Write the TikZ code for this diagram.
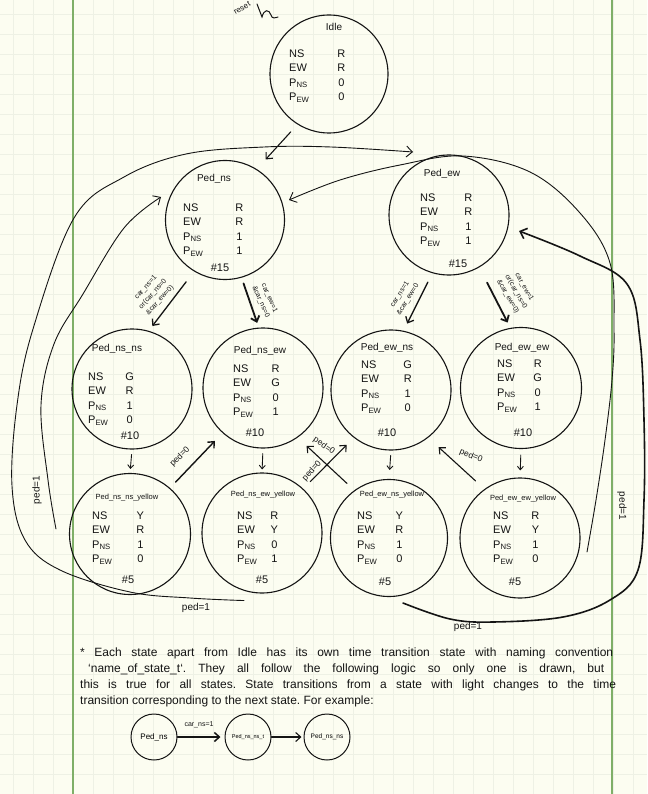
\documentclass[tikz,border=0pt]{standalone}
\usepackage{fontspec}
\setmainfont{Liberation Sans}
\usetikzlibrary{arrows.meta}
\definecolor{paper}{HTML}{FCFDF1}
\definecolor{gridc}{HTML}{EEF1E5}
\definecolor{margin}{HTML}{7FAF68}
\definecolor{ink}{HTML}{141414}
\tikzset{
  stnode/.style={circle,draw=ink,line width=1.1pt,inner sep=0pt,minimum size=#1},
  stnode/.default=119pt,
  txt/.style={font=\fontsize{11}{14.5}\selectfont,inner sep=0pt,text=ink},
  ttl/.style={font=\fontsize{10}{12}\selectfont,inner sep=0pt,text=ink},
  ttly/.style={font=\fontsize{7.5}{9}\selectfont,inner sep=0pt,text=ink},
  elab/.style={font=\fontsize{7}{9.5}\selectfont,inner sep=0pt,align=center,text=ink},
  plab/.style={font=\fontsize{8.5}{10}\selectfont,inner sep=0pt,text=ink},
  plabb/.style={font=\fontsize{10}{11}\selectfont,inner sep=0pt,text=ink},
  note/.style={font=\fontsize{12}{13}\selectfont,inner sep=0pt,text=ink,anchor=base west},
  arr/.style={draw=ink,line width=1.1pt,line cap=round,-{Straight Barb[length=5pt,width=9pt]}},
  sarr/.style={draw=ink,line width=0.9pt,line cap=round,-{Straight Barb[length=3.5pt,width=6pt]}},
  curve/.style={draw=ink,line width=0.9pt,line cap=round,-{Straight Barb[length=6pt,width=11pt]}},
}
\newcommand\sttitle[4]{\node[#4] (#1-t) at ([shift={(#2)}]#1.center) {#3};}
\newcommand\strows[7]{\node[txt,anchor=west] (#1-r) at ([shift={(#2)}]#1.center)
  {\begin{tabular}{@{}l@{\hspace{#3pt}}c@{}}NS&#4\\EW&#5\\P\textsubscript{NS}&#6\\P\textsubscript{EW}&#7\end{tabular}};}
\newcommand\stnum[3]{\node[txt] (#1-n) at ([shift={(#2)}]#1.center) {\#{}#3};}
\begin{document}
\frenchspacing
\begin{tikzpicture}[x=1pt,y=-1pt]
\useasboundingbox (0,0) rectangle (647,794);
\fill[paper] (0,0) rectangle (647,794);
\foreach \i in {0,...,32} \draw[gridc,line width=0.4pt] (13+20*\i,0) -- (13+20*\i,794);
\foreach \j in {0,...,39} \draw[gridc,line width=0.4pt] (0,14+20*\j) -- (647,14+20*\j);
\draw[margin,line width=1.3pt] (73,0) -- (73,794);
\draw[margin,line width=1.3pt] (612,0) -- (612,794);

% states
\node[stnode=118pt] (idle) at (329,74) {};
\node[stnode] (ns) at (225,220) {};
\node[stnode=120pt] (ew) at (449,215) {};
\node[stnode=120pt] (nsns) at (132,389) {};
\node[stnode=120pt] (nsew) at (263,388) {};
\node[stnode=120pt] (ewns) at (391,390) {};
\node[stnode=121pt] (ewew) at (521,388) {};
\node[stnode=121pt] (nsnsy) at (130,534) {};
\node[stnode=120pt] (nsewy) at (262,533) {};
\node[stnode=117pt] (ewnsy) at (389,538) {};
\node[stnode=120pt] (ewewy) at (520,538) {};

% state texts
\sttitle{idle}{5,-47}{Idle}{ttl}
\strows{idle}{-40,2}{28}{R}{R}{0}{0}
\sttitle{ns}{-11,-41}{Ped\_ns}{ttl}
\strows{ns}{-42,10}{32}{R}{R}{1}{1}
\stnum{ns}{-5,48}{15}
\sttitle{ew}{-7,-41}{Ped\_ew}{ttl}
\strows{ew}{-29,5}{24}{R}{R}{1}{1}
\stnum{ew}{9,49}{15}
\sttitle{nsns}{-15,-40}{Ped\_ns\_ns}{ttl}
\strows{nsns}{-44,10}{17}{G}{R}{1}{0}
\stnum{nsns}{-2,47}{10}
\sttitle{nsew}{-3,-37}{Ped\_ns\_ew}{ttl}
\strows{nsew}{-30,3}{18}{R}{G}{0}{1}
\stnum{nsew}{-8,45}{10}
\sttitle{ewns}{-4,-42}{Ped\_ew\_ns}{ttl}
\strows{ewns}{-30,-3}{22}{G}{R}{1}{0}
\stnum{ewns}{-4,43}{10}
\sttitle{ewew}{1,-40}{Ped\_ew\_ew}{ttl}
\strows{ewew}{-24,-2}{16}{R}{G}{0}{1}
\stnum{ewew}{2,45}{10}
\sttitle{nsnsy}{-3,-36}{Ped\_ns\_ns\_yellow}{ttly}
\strows{nsnsy}{-38,4}{24}{Y}{R}{1}{0}
\stnum{nsnsy}{-2,46}{5}
\sttitle{nsewy}{1,-38}{Ped\_ns\_ew\_yellow}{ttly}
\strows{nsewy}{-25,5}{13}{R}{Y}{0}{1}
\stnum{nsewy}{0,47}{5}
\sttitle{ewnsy}{3,-43}{Ped\_ew\_ns\_yellow}{ttly}
\strows{ewnsy}{-32,0}{18}{Y}{R}{1}{0}
\stnum{ewnsy}{-4,44}{5}
\sttitle{ewewy}{3,-39}{Ped\_ew\_ew\_yellow}{ttly}
\strows{ewewy}{-27,0}{18}{R}{Y}{1}{0}
\stnum{ewewy}{-5,44}{5}

% reset
\node[font=\fontsize{8}{9}\selectfont,inner sep=0pt,rotate=30,text=ink] (reset) at (242,8) {reset};
\coordinate (rsA) at (257,4);
\coordinate (rsE) at (278,17);
\draw[ink,line width=1pt,line cap=round] (rsA) -- (262,17) .. controls (264,9) and (269,9) .. (271,15) .. controls (272,19) and (275,18) .. (rsE);

% idle -> ped_ns
\draw[arr,shorten <=10pt,shorten >=13pt] (idle.-122) -- (ns.58);

% ped -> light states
\draw[arr,line width=1.3pt,shorten <=13pt,shorten >=6pt] (ns.-121) -- (nsns.74);
\draw[arr,line width=1.8pt,shorten <=6pt,shorten >=5pt] (ns.-74) -- (nsew.94);
\draw[arr,line width=1.3pt,shorten <=10pt,shorten >=8pt] (ew.-106) -- (ewns.78);
\draw[arr,line width=1.8pt,shorten <=17pt,shorten >=6pt] (ew.-60) -- (ewew.100);
\node[elab,rotate=48] (e1) at (153,294) {car\_ns=1\\or(car\_ns=0\\\&car\_ew=0)};
\node[elab,rotate=-66] (e2) at (265,300) {car\_ew=1\\\&car\_ns=0};
\node[elab,rotate=58] (e3) at (404,297) {car\_ns=1\\\&car\_ew=0};
\node[elab,rotate=-60] (e4) at (516,292) {car\_ew=1\\or(car\_ns=0\\\&car\_ew=0)};

% light -> yellow
\draw[sarr,shorten <=5pt,shorten >=4pt] (nsns.-90) -- (nsnsy.90);
\draw[sarr,shorten <=5pt,shorten >=3pt] (nsew.-90) -- (nsewy.90);
\draw[sarr,shorten <=5pt,shorten >=9pt] (ewns.-90) -- (ewnsy.90);
\draw[sarr,shorten <=6pt,shorten >=7pt] (ewew.-90) -- (ewewy.90);

% yellow -> other light
\draw[arr,line width=1.4pt,shorten <=8pt,shorten >=11pt] (nsnsy.49) -- (nsew.-132);
\draw[arr,shorten <=10pt,shorten >=10pt] (nsewy.47) -- (ewns.-128);
\draw[arr,shorten <=10pt,shorten >=12pt] (ewnsy.126) -- (nsew.-55);
\draw[arr,shorten <=12pt,shorten >=14pt] (ewewy.126) -- (ewns.-52);
\node[plab,rotate=45] (l1) at (180,457) {ped=0};
\node[plab,rotate=48] (l2) at (312,471) {ped=0};
\node[plab,rotate=-35] (l3) at (324,446) {ped=0};
\node[plab,rotate=-22] (l4) at (471,456) {ped=0};

% long ped=1 curves
\coordinate (aS) at ([shift={(-18,7)}]nsewy.south);
\coordinate (aE) at ([shift={(-36,-63)}]ew.center);
\draw[curve] plot[smooth,tension=0.6] coordinates {(aS) (190,598) (130,592) (60,570) (25,540) (12,486) (17,405) (33,329) (74,218) (124,177) (186,154) (264,147) (331,147) (aE)};
\coordinate (bS) at ([shift={(-74,-5)}]nsnsy.center);
\coordinate (bE) at ([shift={(-64,-23)}]ns.center);
\draw[curve] plot[smooth,tension=0.6] coordinates {(bS) (48,480) (41,405) (54,344) (83,294) (124,228) (bE)};
\coordinate (cS) at ([shift={(14,65)}]ewnsy.center);
\coordinate (cE) at ([shift={(70,16)}]ew.center);
\draw[curve,line width=1.6pt] plot[smooth,tension=0.6] coordinates {(cS) (450,619) (493,622) (563,617) (610,600) (638,570) (644,500) (644,420) (640,340) (627,284) (580,256) (cE)};
\coordinate (dS) at ([shift={(67,14)}]ewewy.center);
\coordinate (dE) at ([shift={(64,-20)}]ns.center);
\draw[curve] plot[smooth,tension=0.6] coordinates {(dS) (596,500) (605,440) (612,380) (614,330) (610,263) (580,213) (530,172) (463,156) (400,165) (340,180) (dE)};
\node[plabb] (p1) at (196,608) {ped=1};
\node[plabb] (p2) at (468,627) {ped=1};
\node[plabb,rotate=90] (p3) at (37,490) {ped=1};
\node[plabb,rotate=-90] (p4) at (622,506) {ped=1};

% note
\node[note] (n1) at (80,656) {\makebox[533pt][s]{* Each state apart from Idle has its own time transition state with naming convention}};
\node[note] (n2) at (88,672) {\makebox[516pt][s]{\symbol{96}name\_of\_state\_t\symbol{96}. They all follow the following logic so only one is drawn, but}};
\node[note] (n3) at (80,688) {\makebox[536pt][s]{this is true for all states. State transitions from a state with light changes to the time}};
\node[note] (n4) at (80,704) {transition corresponding to the next state. For example:};

% example
\node[stnode=46pt,line width=1pt,font=\fontsize{8}{9}\selectfont] (ex1) at (154,737) {Ped\_ns};
\node[stnode=46pt,line width=1pt,font=\fontsize{5.5}{7}\selectfont] (ex2) at (248,737) {Ped\_ns\_ns\_t};
\node[stnode=46pt,line width=1pt,font=\fontsize{6.5}{8}\selectfont] (ex3) at (327,737) {Ped\_ns\_ns};
\draw[arr,line width=1.5pt,shorten >=4pt] (ex1) -- (ex2);
\draw[arr,shorten >=2pt] (ex2) -- (ex3);
\node[elab] (exl) at (199,725) {car\_ns=1};
\end{tikzpicture}
\end{document}
